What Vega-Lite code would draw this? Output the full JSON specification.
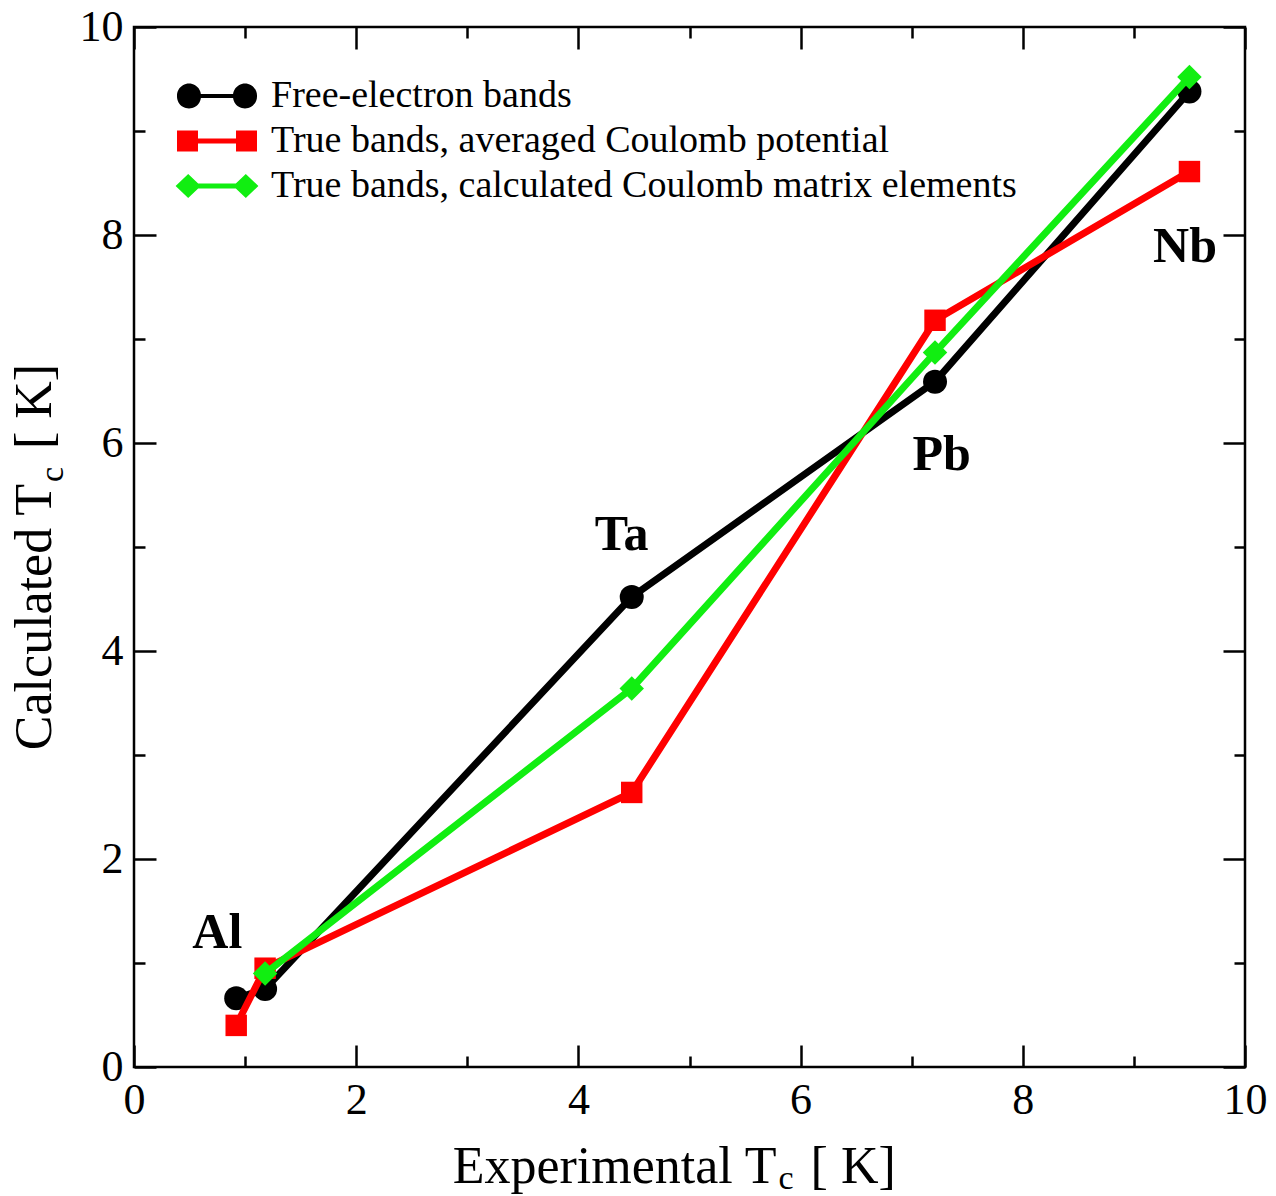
{
  "$schema": "https://vega.github.io/schema/vega-lite/v6.json",
  "width": 1111,
  "height": 1040,
  "padding": {"left": 8, "top": 5, "right": 5, "bottom": 0},
  "background": "white",
  "config": {
    "view": {"stroke": "black", "strokeWidth": 2.5},
    "axis": {"domain": false, "grid": false, "title": null, "tickColor": "black", "tickWidth": 2.5, "labelFont": "Liberation Serif", "labelFontSize": 44, "labelColor": "black", "labelFlush": false, "labelOverlap": false}
  },
  "data": {"values": [
    {"series": "Free-electron bands", "x": 0.92, "y": 0.66},
    {"series": "Free-electron bands", "x": 1.18, "y": 0.75},
    {"series": "Free-electron bands", "x": 4.48, "y": 4.52},
    {"series": "Free-electron bands", "x": 7.21, "y": 6.59},
    {"series": "Free-electron bands", "x": 9.5, "y": 9.38},
    {"series": "True bands, averaged Coulomb potential", "x": 0.92, "y": 0.40},
    {"series": "True bands, averaged Coulomb potential", "x": 1.18, "y": 0.95},
    {"series": "True bands, averaged Coulomb potential", "x": 4.48, "y": 2.64},
    {"series": "True bands, averaged Coulomb potential", "x": 7.21, "y": 7.18},
    {"series": "True bands, averaged Coulomb potential", "x": 9.5, "y": 8.61},
    {"series": "True bands, calculated Coulomb matrix elements", "x": 1.18, "y": 0.90},
    {"series": "True bands, calculated Coulomb matrix elements", "x": 4.48, "y": 3.64},
    {"series": "True bands, calculated Coulomb matrix elements", "x": 7.21, "y": 6.87},
    {"series": "True bands, calculated Coulomb matrix elements", "x": 9.5, "y": 9.52}
  ]},
  "layer": [
    {
      "transform": [{"filter": "datum.series === 'Free-electron bands'"}],
      "mark": {"type": "line", "strokeWidth": 7},
      "encoding": {
        "x": {"field": "x", "type": "quantitative", "scale": {"domain": [0, 10], "nice": false, "zero": false},
              "axis": {"orient": "bottom", "values": [0, 2, 4, 6, 8, 10], "tickSize": -22, "labelPadding": 33}},
        "y": {"field": "y", "type": "quantitative", "scale": {"domain": [0, 10], "nice": false, "zero": false},
              "axis": {"orient": "left", "values": [0, 2, 4, 6, 8, 10], "tickSize": -22, "labelPadding": 33}},
        "color": {"field": "series", "type": "nominal",
          "scale": {"domain": ["Free-electron bands", "True bands, averaged Coulomb potential", "True bands, calculated Coulomb matrix elements"], "range": ["#000000", "#ff0000", "#11ee11"]},
          "legend": {
            "orient": "none", "legendX": 64, "legendY": 50, "title": null,
            "labelFont": "Liberation Serif", "labelFontSize": 38, "labelColor": "black",
            "symbolSize": 1296, "labelOffset": 35, "rowPadding": 7, "labelLimit": 0, "padding": 0,
            "encode": {"symbols": {"update": {
              "shape": {"signal": "datum.value === 'Free-electron bands' ? 'M-1.556,-0.11L1.556,-0.11L1.556,0.11L-1.556,0.11Z M-2.222,0a0.667,0.667 0 1,1 1.333,0a0.667,0.667 0 1,1 -1.333,0Z M0.889,0a0.667,0.667 0 1,1 1.333,0a0.667,0.667 0 1,1 -1.333,0Z' : datum.value === 'True bands, averaged Coulomb potential' ? 'M-2.222,-0.583L-1.056,-0.583L-1.056,0.583L-2.222,0.583Z M1.056,-0.583L2.222,-0.583L2.222,0.583L1.056,0.583Z M-1.64,-0.14L1.64,-0.14L1.64,0.14L-1.64,0.14Z' : 'M-2.3,0L-1.6,-0.667L-0.9,0L-1.6,0.667Z M0.9,0L1.6,-0.667L2.3,0L1.6,0.667Z M-1.6,-0.14L1.6,-0.14L1.6,0.14L-1.6,0.14Z'"},
              "fill": {"signal": "datum.value === 'Free-electron bands' ? '#000000' : datum.value === 'True bands, averaged Coulomb potential' ? '#ff0000' : '#11ee11'"},
              "stroke": {"value": "transparent"},
              "strokeWidth": {"value": 0},
              "opacity": {"value": 1}
            }}}
          }}
      }
    },
    {
      "transform": [{"filter": "datum.series === 'Free-electron bands'"}],
      "mark": {"type": "point", "shape": "circle", "filled": true, "size": 576, "opacity": 1},
      "encoding": {
        "x": {"field": "x", "type": "quantitative", "axis": {"orient": "bottom", "values": [1, 3, 5, 7, 9], "tickSize": -11, "labels": false}},
        "y": {"field": "y", "type": "quantitative", "axis": {"orient": "left", "values": [1, 3, 5, 7, 9], "tickSize": -11, "labels": false}},
        "color": {"field": "series", "type": "nominal", "legend": null}
      }
    },
    {
      "transform": [{"filter": "datum.series === 'True bands, averaged Coulomb potential'"}],
      "mark": {"type": "line", "strokeWidth": 7},
      "encoding": {
        "x": {"field": "x", "type": "quantitative", "axis": {"orient": "top", "values": [0, 2, 4, 6, 8, 10], "tickSize": -22, "labels": false}},
        "y": {"field": "y", "type": "quantitative", "axis": {"orient": "right", "values": [0, 2, 4, 6, 8, 10], "tickSize": -22, "labels": false}},
        "color": {"field": "series", "type": "nominal", "legend": null}
      }
    },
    {
      "transform": [{"filter": "datum.series === 'True bands, averaged Coulomb potential'"}],
      "mark": {"type": "point", "shape": "square", "filled": true, "size": 460, "opacity": 1},
      "encoding": {
        "x": {"field": "x", "type": "quantitative", "axis": {"orient": "top", "values": [1, 3, 5, 7, 9], "tickSize": -11, "labels": false}},
        "y": {"field": "y", "type": "quantitative", "axis": {"orient": "right", "values": [1, 3, 5, 7, 9], "tickSize": -11, "labels": false}},
        "color": {"field": "series", "type": "nominal", "legend": null}
      }
    },
    {
      "transform": [{"filter": "datum.series === 'True bands, calculated Coulomb matrix elements'"}],
      "mark": {"type": "line", "strokeWidth": 7},
      "encoding": {
        "x": {"field": "x", "type": "quantitative", "axis": null},
        "y": {"field": "y", "type": "quantitative", "axis": null},
        "color": {"field": "series", "type": "nominal", "legend": null}
      }
    },
    {
      "transform": [{"filter": "datum.series === 'True bands, calculated Coulomb matrix elements'"}],
      "mark": {"type": "point", "shape": "diamond", "filled": true, "size": 600, "opacity": 1},
      "encoding": {
        "x": {"field": "x", "type": "quantitative", "axis": null},
        "y": {"field": "y", "type": "quantitative", "axis": null},
        "color": {"field": "series", "type": "nominal", "legend": null}
      }
    },
    {
      "data": {"values": [
        {"element": "Al", "x": 0.75, "y": 1.14},
        {"element": "Ta", "x": 4.39, "y": 4.97},
        {"element": "Pb", "x": 7.27, "y": 5.74},
        {"element": "Nb", "x": 9.46, "y": 7.74}
      ]},
      "mark": {"type": "text", "font": "Liberation Serif", "fontWeight": "bold", "fontSize": 50, "align": "center", "baseline": "alphabetic", "color": "black"},
      "encoding": {
        "x": {"field": "x", "type": "quantitative", "axis": null},
        "y": {"field": "y", "type": "quantitative", "axis": null},
        "text": {"field": "element"}
      }
    },
    {
      "data": {"values": [{}]},
      "mark": {"type": "text", "text": "Experimental T", "font": "Liberation Serif", "fontSize": 52, "align": "right", "baseline": "alphabetic", "color": "black"},
      "encoding": {"x": {"datum": 5.784, "type": "quantitative", "axis": null}, "y": {"datum": -1.115, "type": "quantitative", "axis": null}}
    },
    {
      "data": {"values": [{}]},
      "mark": {"type": "text", "text": "c", "font": "Liberation Serif", "fontSize": 34, "align": "left", "baseline": "alphabetic", "color": "black"},
      "encoding": {"x": {"datum": 5.8, "type": "quantitative", "axis": null}, "y": {"datum": -1.17, "type": "quantitative", "axis": null}}
    },
    {
      "data": {"values": [{}]},
      "mark": {"type": "text", "text": "[ K]", "font": "Liberation Serif", "fontSize": 52, "align": "left", "baseline": "alphabetic", "color": "black"},
      "encoding": {"x": {"datum": 6.09, "type": "quantitative", "axis": null}, "y": {"datum": -1.115, "type": "quantitative", "axis": null}}
    },
    {
      "data": {"values": [{}]},
      "mark": {"type": "text", "text": "Calculated T", "font": "Liberation Serif", "fontSize": 52, "align": "right", "baseline": "alphabetic", "angle": 270, "color": "black"},
      "encoding": {"x": {"datum": -0.748, "type": "quantitative", "axis": null}, "y": {"datum": 5.606, "type": "quantitative", "axis": null}}
    },
    {
      "data": {"values": [{}]},
      "mark": {"type": "text", "text": "c", "font": "Liberation Serif", "fontSize": 34, "align": "left", "baseline": "alphabetic", "angle": 270, "color": "black"},
      "encoding": {"x": {"datum": -0.64, "type": "quantitative", "axis": null}, "y": {"datum": 5.625, "type": "quantitative", "axis": null}}
    },
    {
      "data": {"values": [{}]},
      "mark": {"type": "text", "text": "[ K]", "font": "Liberation Serif", "fontSize": 52, "align": "left", "baseline": "alphabetic", "angle": 270, "color": "black"},
      "encoding": {"x": {"datum": -0.748, "type": "quantitative", "axis": null}, "y": {"datum": 5.942, "type": "quantitative", "axis": null}}
    }
  ],
  "resolve": {"axis": {"x": "independent", "y": "independent"}}
}
